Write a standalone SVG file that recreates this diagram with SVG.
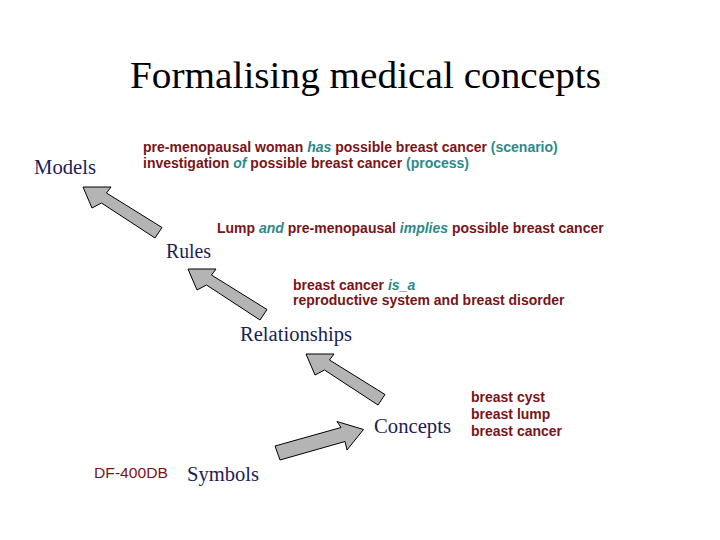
<svg xmlns="http://www.w3.org/2000/svg" xmlns:xlink="http://www.w3.org/1999/xlink" width="720" height="540" viewBox="0 0 720 540">
<style>
.title{font-family:"Liberation Serif","Times New Roman",serif;font-size:37px;fill:#000}
.lvl{font-family:"Liberation Serif","Times New Roman",serif;font-size:20px;fill:#1c1c58}
.ex{font-family:"Liberation Sans",Arial,sans-serif;font-size:14px;font-weight:bold;fill:#7a1418}
.kw{fill:#2c8a8a;font-style:italic}
.tl{fill:#2c8a8a}
.arr{fill:#b4b4b4;stroke:#000;stroke-width:1;stroke-linejoin:miter}
</style>
<defs>
<polygon id="up" class="arr" points="0,0 28,0 23.5,6 79,40.5 72,51 18.5,16 9,21"/>
</defs>
<rect width="720" height="540" fill="#fff"/>
<g id="title"><text class="title" x="130" y="88" textLength="471" lengthAdjust="spacingAndGlyphs">Formalising medical concepts</text></g>
<g id="connectors">
<use xlink:href="#up" href="#up" transform="translate(83,187)"/>
<use xlink:href="#up" href="#up" transform="translate(188,269)"/>
<use xlink:href="#up" href="#up" transform="translate(306,354)"/>
<polygon class="arr" points="275,446 341,427.5 337,421.5 363.5,429.5 347,450 345,441.5 280,460"/>
</g>
<g id="models"><text class="lvl" x="34" y="174" textLength="62" lengthAdjust="spacingAndGlyphs">Models</text></g>
<g id="rules"><text class="lvl" x="166" y="258" textLength="45" lengthAdjust="spacingAndGlyphs">Rules</text></g>
<g id="relationships"><text class="lvl" x="240" y="341" textLength="112" lengthAdjust="spacingAndGlyphs">Relationships</text></g>
<g id="concepts"><text class="lvl" x="374" y="433" textLength="77" lengthAdjust="spacingAndGlyphs">Concepts</text></g>
<g id="symbols"><text class="lvl" x="187" y="481" textLength="72" lengthAdjust="spacingAndGlyphs">Symbols</text></g>
<g id="models-example">
<text class="ex" x="143" y="152">pre-menopausal woman <tspan class="kw">has</tspan> possible breast cancer <tspan class="tl">(scenario)</tspan></text>
<text class="ex" x="143" y="168">investigation <tspan class="kw">of</tspan> possible breast cancer <tspan class="tl">(process)</tspan></text>
</g>
<g id="rules-example">
<text class="ex" x="217" y="233">Lump <tspan class="kw">and</tspan> pre-menopausal <tspan class="kw">implies</tspan> possible breast cancer</text>
</g>
<g id="relationships-example">
<text class="ex" x="293" y="290">breast cancer <tspan class="kw">is_a</tspan></text>
<text class="ex" x="293" y="305">reproductive system and breast disorder</text>
</g>
<g id="concepts-example">
<text class="ex" x="471" y="402">breast cyst</text>
<text class="ex" x="471" y="419">breast lump</text>
<text class="ex" x="471" y="436">breast cancer</text>
</g>
<g id="symbols-example">
<text x="94" y="478" font-family="'Liberation Sans',Arial,sans-serif" font-size="15" fill="#7a1418" textLength="74" lengthAdjust="spacingAndGlyphs">DF-400DB</text>
</g>
</svg>
